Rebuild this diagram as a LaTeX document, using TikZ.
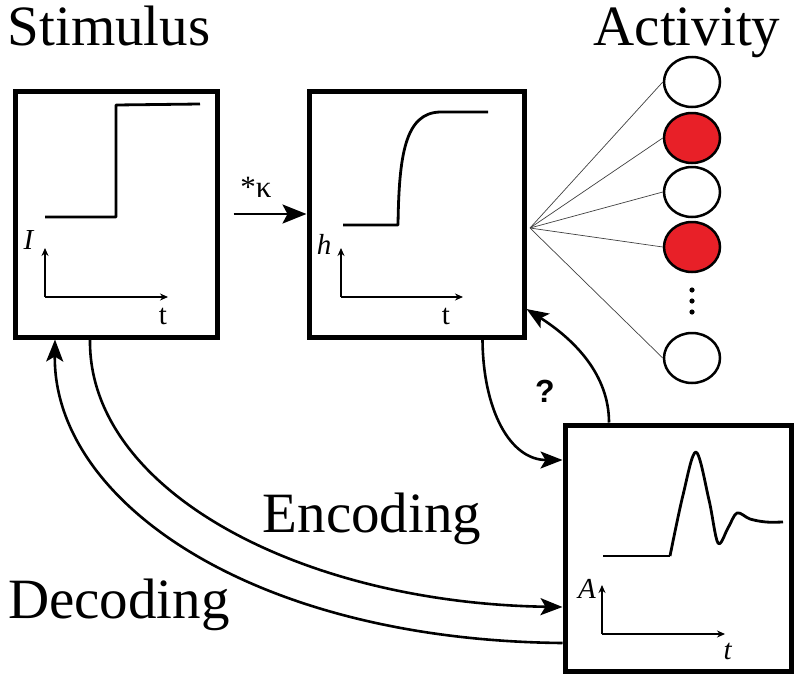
\documentclass[tikz,border=0pt]{standalone}
\usepackage{fontspec}
\setmainfont{Liberation Serif}
\newfontfamily\serifx{Liberation Serif}
\newfontfamily\sansb{Liberation Sans}
\usetikzlibrary{arrows.meta,calc,shapes.geometric}
\definecolor{cellred}{RGB}{232,32,40}
\tikzset{
  panel/.style={draw=black, line width=5pt, minimum height=246pt, inner sep=0pt},
  signal/.style={line width=2.8pt, line join=round},
  axis/.style={line width=1.2pt, -{Stealth[length=8pt,width=7pt]}},
  bigarrow/.style={line width=2.6pt, -{Stealth[length=22pt,width=17pt,inset=5pt]}},
  cell/.style={ellipse, draw=black, line width=2.5pt, minimum width=56pt, minimum height=50pt, inner sep=0pt, fill=white},
  redcell/.style={cell, fill=cellred},
  fanline/.style={line width=0.7pt, black!75},
  title/.style={font=\serifx\fontsize{57}{60}\selectfont, anchor=base, inner sep=0pt},
  axlab/.style={font=\serifx\fontsize{29}{30}\selectfont, inner sep=0pt},
}
\begin{document}
\begin{tikzpicture}[x=1pt,y=-1pt]
\useasboundingbox (0,0) rectangle (799,680);
% panels
\node[panel, minimum width=202pt] (b1) at (116,214) {};
\node[panel, minimum width=215pt] (b2) at (416.5,214) {};
\node[panel, minimum width=226pt] (b3) at (678,548) {};
% titles
\node[title] (tstim) at (109,45) {Stimulus};
\node[title] (tact) at (687,45) {Activity};
\node[title] (tenc) at (372,532) {Encoding};
\node[title] (tdec) at (119,618) {Decoding};
% stimulus panel content
\draw[signal] (45,217) -- (116,217) -- (116,105) -- (200,104);
\coordinate (o1) at (45,297);
\coordinate (x1) at (168,297);
\coordinate (y1) at (45,248);
\draw[axis] (o1) -- (x1);
\draw[axis] (o1) -- (y1);
\node[axlab] (lI) at (29,240) {\textit{I}};
\node[axlab] (lt1) at (163,316) {t};
% filtered panel content
\draw[signal] (343,225) -- (398,225) .. controls (399,155) and (405,113) .. (440,112) -- (488,112);
\coordinate (o2) at (341,297);
\coordinate (x2) at (463,297);
\coordinate (y2) at (341,248);
\draw[axis] (o2) -- (x2);
\draw[axis] (o2) -- (y2);
\node[axlab] (lh) at (324,244) {\textit{h}};
\node[axlab] (lt2) at (446,316) {t};
% activity panel content
\draw[signal] (603,556) -- (670,556);
\draw[signal] plot[smooth, tension=0.55] coordinates {(670,556) (683,495) (696,452) (709,500) (718,543) (728,528) (737,513) (750,519) (766,522) (783,522)};
\coordinate (o3) at (602,634);
\coordinate (x3) at (725,634);
\coordinate (y3) at (602,585);
\draw[axis] (o3) -- (x3);
\draw[axis] (o3) -- (y3);
\node[axlab] (lA) at (587,589) {\textit{A}};
\node[axlab] (lt3) at (728,651) {\textit{t}};
% convolution arrow
\coordinate (k0) at ($(b1.east)+(14,0)$);
\draw[line width=2.6pt, -{Stealth[length=24pt,width=19pt,inset=5pt]}] (k0) -- (b2.west);
\node[font=\serifx\fontsize{31}{32}\selectfont, anchor=base, inner sep=0pt] (kap) at (256,197) {*κ};
% population
\coordinate (fan) at (530,228);
\node[cell] (c1) at (692,82) {};
\node[redcell] (c2) at (692,138) {};
\node[cell] (c3) at (692,192) {};
\node[redcell] (c4) at (692,247) {};
\node[cell] (c5) at (692,358) {};
\foreach \c in {c1,c2,c3,c4,c5} \draw[fanline] (fan) -- (\c.west);
\fill (692,290) circle (2.6pt) (692,301) circle (2.6pt) (692,312) circle (2.6pt);
% loop between h and A
\coordinate (q0) at ($(b2.south)+(66,0)$);
\coordinate (q1) at ($(b3.west)+(0,-88)$);
\draw[bigarrow] (q0) .. controls (483,410) and (510,460) .. (q1);
\coordinate (r0) at ($(b3.north)+(-69,0)$);
\coordinate (r1) at ($(b2.east)+(0,95)$);
\draw[bigarrow] (r0) .. controls (609,375) and (575,340) .. (r1);
\node[font=\sansb\bfseries\fontsize{32}{34}\selectfont, inner sep=0pt] (qm) at (545,391) {?};
% encoding and decoding
\coordinate (e0) at ($(b1.south)+(-26,0)$);
\coordinate (e1) at ($(b3.west)+(0,59)$);
\draw[bigarrow] (e0) .. controls (88,490) and (300,603) .. (e1);
\coordinate (d0) at ($(b3.west)+(0,95)$);
\coordinate (d1) at ($(b1.south)+(-61,0)$);
\draw[bigarrow] (d0) .. controls (250,640) and (53,500) .. (d1);
\end{tikzpicture}
\end{document}
